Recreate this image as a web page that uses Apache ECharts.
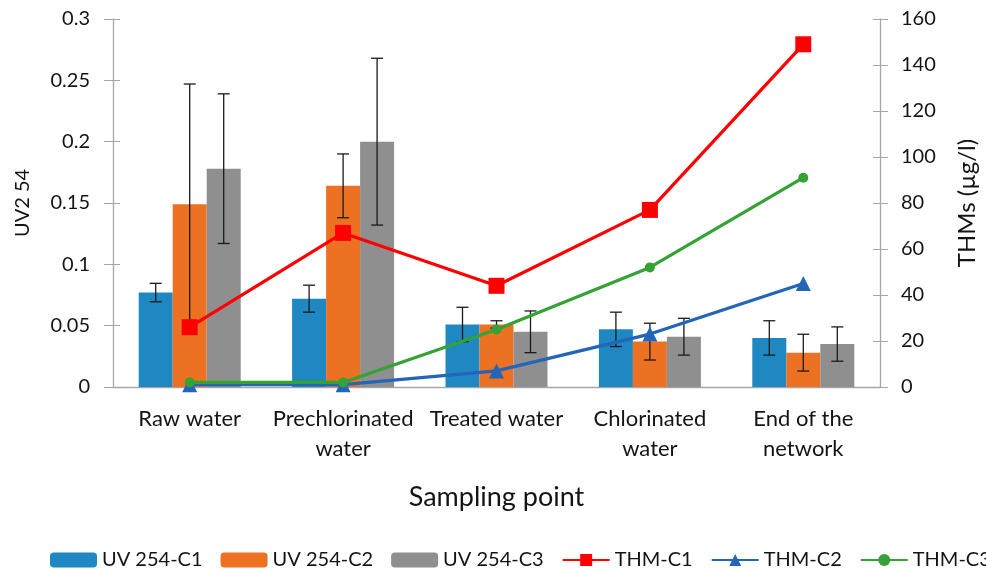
<!DOCTYPE html>
<html>
<head>
<meta charset="utf-8">
<script src="https://cdn.jsdelivr.net/npm/echarts@6/dist/echarts.min.js"></script>
<style>
html, body { margin: 0; padding: 0; background: #fff; }
#chart { width: 986px; height: 570px; }
</style>
</head>
<body>
<div id="chart"></div>
<script>
var categories = ['Raw water', 'Prechlorinated\nwater', 'Treated water', 'Chlorinated\nwater', 'End of the\nnetwork'];

var uvC1 = [0.077, 0.072, 0.051, 0.047, 0.040];
var uvC1Err = [0.0075, 0.011, 0.014, 0.014, 0.014];
var uvC2 = [0.149, 0.164, 0.051, 0.037, 0.028];
var uvC2Err = [0.098, 0.026, 0.003, 0.015, 0.015];
var uvC3 = [0.178, 0.200, 0.045, 0.041, 0.035];
var uvC3Err = [0.061, 0.068, 0.017, 0.015, 0.014];

var thmC1 = [26, 67, 44, 77, 149];
var thmC2 = [1, 1, 7, 23, 45];
var thmC3 = [2, 2, 25, 52, 91];

var font = 'Lato';
var barW = 34;
var axisColor = '#a6a6a6';
var textColor = '#141414';

function errData(vals, errs) {
    return vals.map(function (v, i) { return [i, v - errs[i], v + errs[i]]; });
}

// error bar as a custom series, shifted onto its bar
function errSeries(name, vals, errs, offset) {
    return {
        name: name + ' err',
        type: 'custom',
        yAxisIndex: 0,
        z: 3,
        silent: true,
        data: errData(vals, errs),
        encode: { x: 0, y: [1, 2] },
        renderItem: function (params, api) {
            var lo = api.coord([api.value(0), api.value(1)]);
            var hi = api.coord([api.value(0), api.value(2)]);
            var x = lo[0] + offset;
            var cap = 6;
            var style = { stroke: '#1a1a1a', lineWidth: 1.3 };
            return {
                type: 'group',
                children: [
                    { type: 'line', shape: { x1: x, y1: lo[1], x2: x, y2: hi[1] }, style: style },
                    { type: 'line', shape: { x1: x - cap, y1: lo[1], x2: x + cap, y2: lo[1] }, style: style },
                    { type: 'line', shape: { x1: x - cap, y1: hi[1], x2: x + cap, y2: hi[1] }, style: style }
                ]
            };
        }
    };
}

// extra axes only for the inward half of the crossing ticks
function innerTicks(pos, max, interval) {
    return {
        type: 'value', position: pos, min: 0, max: max, interval: interval,
        axisLine: { show: false },
        axisTick: { show: true, inside: true, length: 7, lineStyle: { color: axisColor } },
        axisLabel: { show: false },
        splitLine: { show: false }
    };
}

var chart = echarts.init(document.getElementById('chart'));
var option = {
    animation: false,
    textStyle: { fontFamily: font },
    grid: { left: 113, right: 106, top: 19, bottom: 183, outerBoundsMode: 'none', containLabel: false },
    legend: {
        left: 45,
        top: 545,
        width: 1400,
        itemWidth: 47,
        itemHeight: 15,
        itemGap: 18,
        textStyle: { fontSize: 20, color: textColor, fontFamily: font },
        data: ['UV 254-C1', 'UV 254-C2', 'UV 254-C3', 'THM-C1', 'THM-C2', 'THM-C3']
    },
    xAxis: {
        type: 'category',
        data: categories,
        name: 'Sampling point',
        nameLocation: 'middle',
        nameGap: 97,
        nameMoveOverlap: false,
        nameTextStyle: { fontSize: 27, color: textColor },
        axisLine: { lineStyle: { color: axisColor, width: 1.3 } },
        axisTick: { length: 10, lineStyle: { color: axisColor } },
        axisLabel: { interval: 0, hideOverlap: false, fontSize: 22, color: textColor, margin: 17, lineHeight: 30 }
    },
    yAxis: [
        {
            type: 'value',
            min: 0, max: 0.3, interval: 0.05,
            name: 'UV2 54',
            nameLocation: 'middle',
            nameGap: 80,
            nameMoveOverlap: false,
            nameTextStyle: { fontSize: 20, color: textColor },
            axisLine: { show: true, lineStyle: { color: axisColor, width: 1.3 } },
            axisTick: { show: true, length: 9, lineStyle: { color: axisColor } },
            splitLine: { show: false },
            axisLabel: { fontSize: 20, color: textColor, margin: 23 }
        },
        {
            type: 'value',
            min: 0, max: 160, interval: 20,
            name: 'THMs (µg/l)',
            nameLocation: 'middle',
            nameGap: 75,
            nameRotate: 90,
            nameMoveOverlap: false,
            nameTextStyle: { fontSize: 24, color: textColor },
            axisLine: { show: true, lineStyle: { color: axisColor, width: 1.3 } },
            axisTick: { show: true, length: 8, lineStyle: { color: axisColor } },
            splitLine: { show: false },
            axisLabel: { fontSize: 20, color: textColor, margin: 21 }
        },
        innerTicks('left', 0.3, 0.05),
        innerTicks('right', 160, 20)
    ],
    series: [
        { name: 'UV 254-C1', type: 'bar', data: uvC1, barWidth: barW, barGap: '0%', itemStyle: { color: '#1f87c1' } },
        { name: 'UV 254-C2', type: 'bar', data: uvC2, barWidth: barW, barGap: '0%', itemStyle: { color: '#ec7122' } },
        { name: 'UV 254-C3', type: 'bar', data: uvC3, barWidth: barW, barGap: '0%', itemStyle: { color: '#8f8f8f' } },
        errSeries('UV 254-C1', uvC1, uvC1Err, -barW),
        errSeries('UV 254-C2', uvC2, uvC2Err, 0),
        errSeries('UV 254-C3', uvC3, uvC3Err, barW),
        {
            name: 'THM-C1', type: 'line', yAxisIndex: 1, data: thmC1, z: 5,
            symbol: 'rect', symbolSize: 16,
            lineStyle: { color: '#ff0000', width: 3.2 },
            itemStyle: { color: '#ff0000' }
        },
        {
            name: 'THM-C2', type: 'line', yAxisIndex: 1, data: thmC2, z: 5,
            symbol: 'triangle', symbolSize: 15,
            lineStyle: { color: '#2365b8', width: 3.2 },
            itemStyle: { color: '#2365b8' }
        },
        {
            name: 'THM-C3', type: 'line', yAxisIndex: 1, data: thmC3, z: 5,
            symbol: 'circle', symbolSize: 10,
            lineStyle: { color: '#34a234', width: 3.2 },
            itemStyle: { color: '#34a234' }
        }
    ]
};
chart.setOption(option);

window.onresize = chart.resize;
</script>
</body>
</html>
